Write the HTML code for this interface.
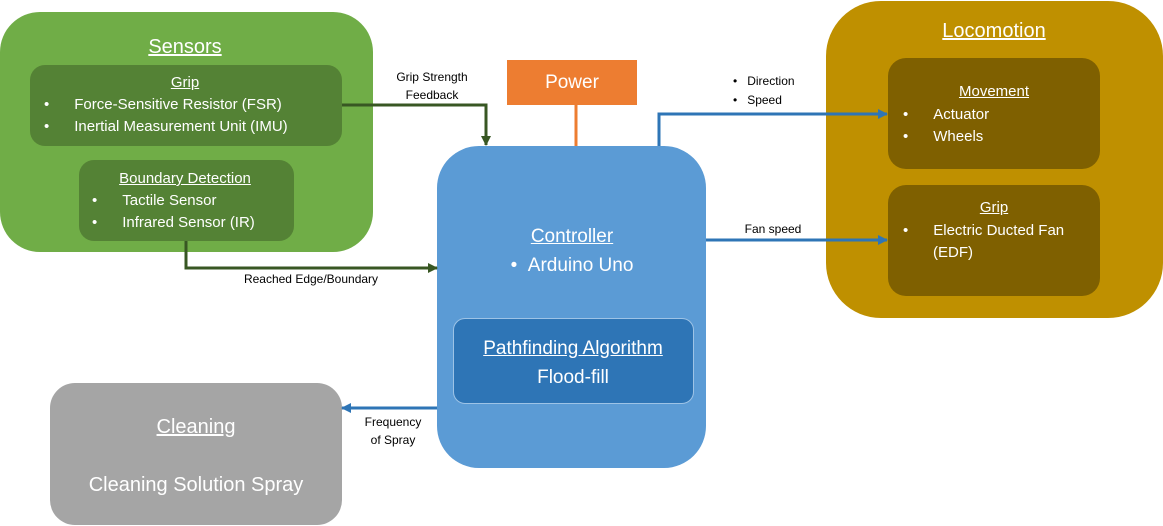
<!DOCTYPE html>
<html><head><style>
body{margin:0;width:1163px;height:526px;background:#fff;position:relative;overflow:hidden;font-family:"Liberation Sans",sans-serif;}
.b{position:absolute;box-sizing:border-box;}
.t{position:absolute;white-space:nowrap;color:#fff;line-height:1;}
.c{transform:translateX(-50%);}
u{text-decoration:underline;}
.k{color:#000;font-size:12px;}
</style></head><body>
<div class="b" style="left:0;top:12px;width:373px;height:240px;background:#70AD47;border-radius:40px;"></div>
<div class="b" style="left:30px;top:65px;width:312px;height:81px;background:#548235;border-radius:15px;"></div>
<div class="b" style="left:79px;top:160px;width:215px;height:81px;background:#548235;border-radius:15px;"></div>
<div class="b" style="left:507px;top:60px;width:130px;height:45px;background:#ED7D31;"></div>
<div class="b" style="left:437px;top:146px;width:269px;height:322px;background:#5B9BD5;border-radius:42px;"></div>
<div class="b" style="left:453px;top:318px;width:241px;height:86px;background:#2E75B6;border:1px solid #9DC3E6;border-radius:12px;"></div>
<div class="b" style="left:826px;top:1px;width:337px;height:317px;background:#BF9000;border-radius:55px;"></div>
<div class="b" style="left:888px;top:58px;width:212px;height:111px;background:#7F6000;border-radius:18px;"></div>
<div class="b" style="left:888px;top:185px;width:212px;height:111px;background:#7F6000;border-radius:18px;"></div>
<div class="b" style="left:50px;top:383px;width:292px;height:142px;background:#A5A5A5;border-radius:25px;"></div>

<svg width="1163" height="526" style="position:absolute;left:0;top:0">
<defs>
<marker id="g" markerWidth="10" markerHeight="10" refX="9" refY="5" orient="auto" markerUnits="userSpaceOnUse"><path d="M0,0L10,5L0,10z" fill="#385723"/></marker>
<marker id="bl" markerWidth="10" markerHeight="10" refX="9" refY="5" orient="auto" markerUnits="userSpaceOnUse"><path d="M0,0L10,5L0,10z" fill="#2E75B6"/></marker>
</defs>
<g fill="none" stroke-width="3">
<path d="M342,105H486V145" stroke="#385723" marker-end="url(#g)"/>
<path d="M186,241V268H437" stroke="#385723" marker-end="url(#g)"/>
<path d="M576,105V146" stroke="#ED7D31"/>
<path d="M659,146V114H887" stroke="#2E75B6" marker-end="url(#bl)"/>
<path d="M706,240H887" stroke="#2E75B6" marker-end="url(#bl)"/>
<path d="M437,408H342" stroke="#2E75B6" marker-end="url(#bl)"/>
</g>
</svg>

<div class="t c" style="left:185px;top:37px;font-size:20px;"><u>Sensors</u></div>
<div class="t c" style="left:185px;top:75px;font-size:15px;"><u>Grip</u></div>
<div class="t" style="left:44px;top:97px;font-size:15px;">•&nbsp;&nbsp;&nbsp;&nbsp;&nbsp;&nbsp;Force-Sensitive Resistor (FSR)</div>
<div class="t" style="left:44px;top:119px;font-size:15px;">•&nbsp;&nbsp;&nbsp;&nbsp;&nbsp;&nbsp;Inertial Measurement Unit (IMU)</div>
<div class="t c" style="left:185px;top:171px;font-size:15px;"><u>Boundary Detection</u></div>
<div class="t" style="left:92px;top:193px;font-size:15px;">•&nbsp;&nbsp;&nbsp;&nbsp;&nbsp;&nbsp;Tactile Sensor</div>
<div class="t" style="left:92px;top:215px;font-size:15px;">•&nbsp;&nbsp;&nbsp;&nbsp;&nbsp;&nbsp;Infrared Sensor (IR)</div>

<div class="t c k" style="left:432px;top:71px;">Grip Strength</div>
<div class="t c k" style="left:432px;top:89px;">Feedback</div>
<div class="t c k" style="left:311px;top:273px;">Reached Edge/Boundary</div>
<div class="t c" style="left:572px;top:73px;font-size:19px;">Power</div>

<div class="t c" style="left:572px;top:227px;font-size:19px;"><u>Controller</u></div>
<div class="t c" style="left:572px;top:256px;font-size:19px;">•&nbsp;&nbsp;Arduino Uno</div>
<div class="t c" style="left:573px;top:339px;font-size:19px;"><u>Pathfinding Algorithm</u></div>
<div class="t c" style="left:573px;top:368px;font-size:19px;">Flood-fill</div>

<div class="t k" style="left:733px;top:75px;">•&nbsp;&nbsp;&nbsp;Direction</div>
<div class="t k" style="left:733px;top:94px;">•&nbsp;&nbsp;&nbsp;Speed</div>
<div class="t c k" style="left:773px;top:223px;">Fan speed</div>

<div class="t c" style="left:994px;top:21px;font-size:20px;"><u>Locomotion</u></div>
<div class="t c" style="left:994px;top:84px;font-size:15px;"><u>Movement</u></div>
<div class="t" style="left:903px;top:107px;font-size:15px;">•&nbsp;&nbsp;&nbsp;&nbsp;&nbsp;&nbsp;Actuator</div>
<div class="t" style="left:903px;top:129px;font-size:15px;">•&nbsp;&nbsp;&nbsp;&nbsp;&nbsp;&nbsp;Wheels</div>
<div class="t c" style="left:994px;top:200px;font-size:15px;"><u>Grip</u></div>
<div class="t" style="left:903px;top:223px;font-size:15px;">•&nbsp;&nbsp;&nbsp;&nbsp;&nbsp;&nbsp;Electric Ducted Fan</div>
<div class="t" style="left:933px;top:245px;font-size:15px;">(EDF)</div>

<div class="t c k" style="left:393px;top:416px;">Frequency</div>
<div class="t c k" style="left:393px;top:434px;">of Spray</div>
<div class="t c" style="left:196px;top:417px;font-size:20px;"><u>Cleaning</u></div>
<div class="t c" style="left:196px;top:475px;font-size:20px;">Cleaning Solution Spray</div>
</body></html>
